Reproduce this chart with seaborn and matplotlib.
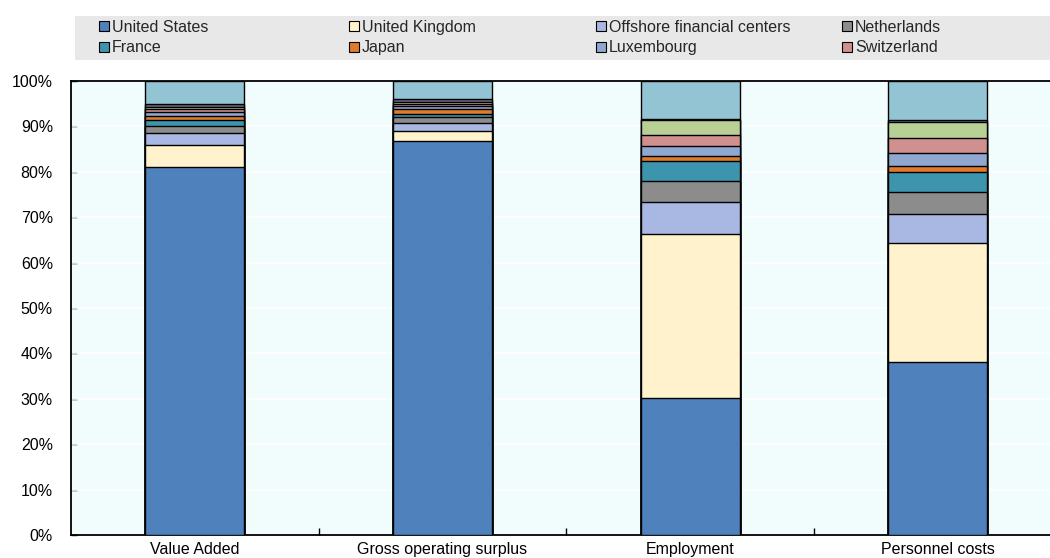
import matplotlib
matplotlib.use("Agg")
import matplotlib.pyplot as plt
from matplotlib.patches import Rectangle, Patch
from matplotlib import font_manager
import numpy as np
import pandas as pd
import seaborn as sns

# Share of foreign affiliates' activity by home economy (%)
categories = ["Value Added", "Gross operating surplus", "Employment", "Personnel costs"]

series_names = [
    "United States", "United Kingdom", "Offshore financial centers", "Netherlands",
    "France", "Japan", "Luxembourg", "Switzerland",
    "Other Europe", "Other Asia", "Rest of world",
]
united_states = [81.0, 86.8, 30.2, 38.2]
united_kingdom = [5.0, 2.2, 36.0, 26.1]
offshore = [2.6, 1.8, 7.2, 6.4]
netherlands = [1.4, 1.3, 4.6, 4.8]
france = [1.3, 0.7, 4.4, 4.5]
japan = [1.0, 1.0, 1.1, 1.3]
luxembourg = [0.9, 0.6, 2.2, 2.9]
switzerland = [0.6, 0.5, 2.3, 3.2]
other_europe = [0.5, 0.4, 3.4, 3.6]
other_asia = [0.7, 0.7, 0.2, 0.3]
rest_of_world = [5.0, 4.0, 8.4, 8.7]

series_values = [united_states, united_kingdom, offshore, netherlands, france, japan,
                 luxembourg, switzerland, other_europe, other_asia, rest_of_world]
colors = ["#4f81bd", "#fff2cc", "#a9b8e3", "#8c8c8c", "#3d95ad", "#e07b2d",
          "#8ea8d2", "#d09090", "#b8cf96", "#6b6480", "#92c4d4"]
legend_order = [[0, 4], [1, 5], [2, 6], [3, 7]]
y_ticks = list(range(0, 101, 10))
y_tick_labels = [f"{v}%" for v in y_ticks]

sns.set_theme(style="white")
names = {f.name for f in font_manager.fontManager.ttflist}
narrow = "Liberation Sans Narrow" if "Liberation Sans Narrow" in names else "Liberation Sans"
plt.rcParams["font.family"] = [narrow, "DejaVu Sans"]
fs = 11.5

W, H = 1050, 558
fig = plt.figure(figsize=(W / 100, H / 100), dpi=100)
ax_left, ax_bottom, ax_top = 71, 535, 81
ax = fig.add_axes([ax_left / W, 1 - ax_bottom / H, 1 - ax_left / W, (ax_bottom - ax_top) / H])
ax.set_facecolor("#f1fdfd")

df = pd.DataFrame({name: vals for name, vals in zip(series_names, series_values)})
df["category"] = categories
cum = df[series_names].cumsum(axis=1)

# Stack by drawing cumulative totals from the top series down
for name, col in reversed(list(zip(series_names, colors))):
    sns.barplot(x=df["category"], y=cum[name], color=col, width=0.4,
                edgecolor="black", linewidth=1.0, saturation=1, ax=ax, zorder=3)

spacing = 247.7
ax.set_xlim(-0.5, -0.5 + (W - ax_left) / spacing)
ax.set_ylim(0, 100)
ax.set_yticks(y_ticks)
ax.set_yticklabels(y_tick_labels)
ax.set_xticks(range(len(categories)))
ax.set_xticklabels(categories)
ax.set_xticks([0.5, 1.5, 2.5], minor=True)
ax.set_xlabel("")
ax.set_ylabel("")
for y in y_ticks[1:-1]:
    ax.axhline(y, color="white", linewidth=1.2, zorder=1)

ax.tick_params(axis="x", which="major", length=0, labelsize=fs, pad=5, colors="black")
ax.tick_params(axis="x", which="minor", direction="in", length=5, width=1, color="black", bottom=True)
ax.tick_params(axis="y", direction="in", length=4, width=1, color="black", labelsize=fs,
               pad=13, left=True, labelcolor="black")
for side in ["left", "bottom", "top"]:
    ax.spines[side].set_visible(True)
    ax.spines[side].set_color("black")
    ax.spines[side].set_linewidth(1.3)
ax.spines["right"].set_visible(False)

# Legend band
fig.patches.append(Rectangle((75 / W, 1 - 60 / H), (W - 75) / W, 44 / H,
                             transform=fig.transFigure, facecolor="#e8e8e8",
                             edgecolor="none", zorder=0))
col_x = [99, 349, 596, 842]
for cx, idxs in zip(col_x, legend_order):
    handles = [Patch(facecolor=colors[i], edgecolor="black", linewidth=0.8) for i in idxs]
    labels = [series_names[i] for i in idxs]
    fig.legend(handles, labels, loc="upper left", bbox_to_anchor=(cx / W, 1 - 20 / H),
               frameon=False, fontsize=fs, handlelength=0.6, handleheight=0.6,
               handletextpad=0.2, labelspacing=0.33, borderpad=0, borderaxespad=0)

fig.savefig("out.png", dpi=100)
